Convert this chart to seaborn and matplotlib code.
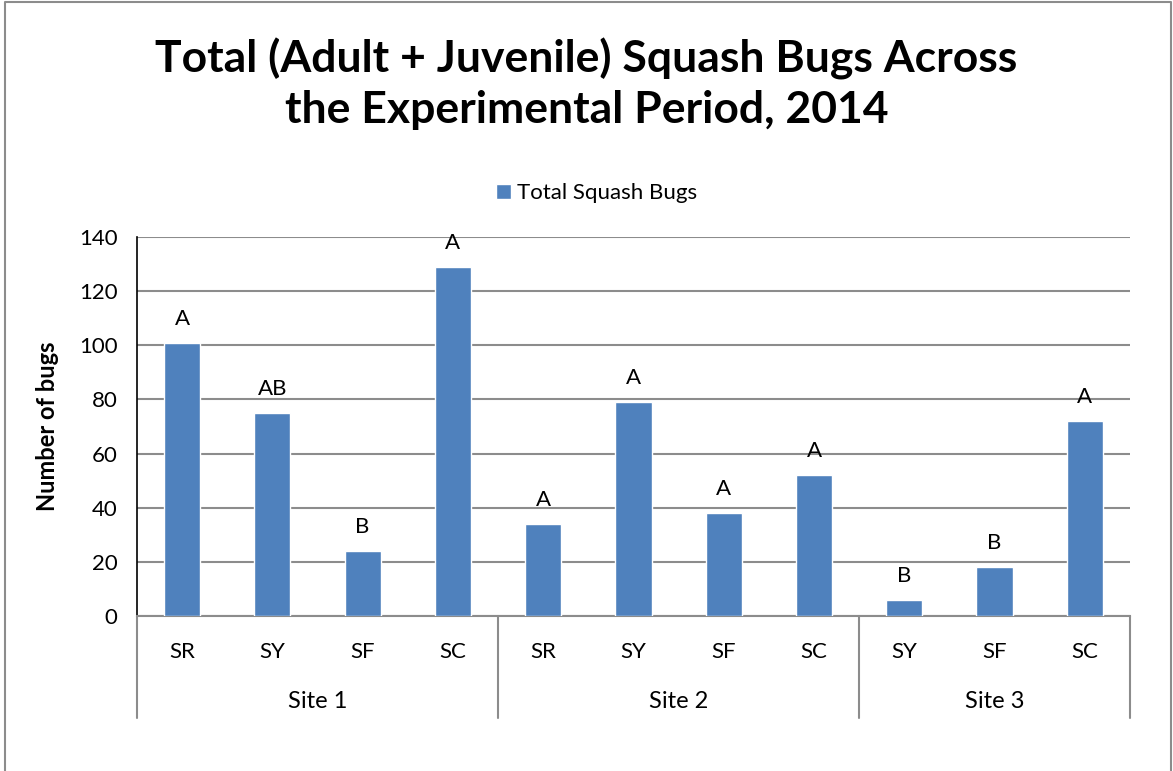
import numpy as np
import pandas as pd
import matplotlib.pyplot as plt
import seaborn as sns
from matplotlib.lines import Line2D

sites = ['Site 1', 'Site 1', 'Site 1', 'Site 1',
         'Site 2', 'Site 2', 'Site 2', 'Site 2',
         'Site 3', 'Site 3', 'Site 3']
treatments = ['SR', 'SY', 'SF', 'SC', 'SR', 'SY', 'SF', 'SC', 'SY', 'SF', 'SC']
bugs = [101, 75, 24, 129, 34, 79, 38, 52, 6, 18, 72]
letters = ['A', 'AB', 'B', 'A', 'A', 'A', 'A', 'A', 'B', 'B', 'A']
y_ticks = [0, 20, 40, 60, 80, 100, 120, 140]

df = pd.DataFrame({'site': sites, 'treatment': treatments, 'bugs': bugs})
df['key'] = df['site'] + ' ' + df['treatment']

sns.set_style('white')
plt.rcParams['font.family'] = ['Lato', 'DejaVu Sans']
plt.rcParams.update({'text.color': 'black', 'axes.labelcolor': 'black',
                     'xtick.color': 'black', 'ytick.color': 'black'})

bar_color = '#4f81bd'
grid_color = '#8c8c8c'
fig = plt.figure(figsize=(11.73, 7.71), dpi=100)
ax = fig.add_axes([0.1168, 0.201, 0.8465, 0.4916])

sns.barplot(data=df, x='key', y='bugs', order=list(df['key']), color=bar_color,
            saturation=1, width=0.4, ax=ax, label='Total Squash Bugs', zorder=3)

ax.set_ylim(0, 140)
ax.set_xlim(-0.5, len(df) - 0.5)
ax.set_yticks(y_ticks)
ax.tick_params(axis='y', labelsize=16, length=5, width=1, direction='out', pad=9)
ax.yaxis.grid(True, color=grid_color, linewidth=1.5, zorder=0)
ax.set_axisbelow(True)
for s in ['top', 'right']:
    ax.spines[s].set_visible(False)
ax.spines['left'].set_color('black')
ax.spines['left'].set_linewidth(1.2)
ax.spines['bottom'].set_color(grid_color)
ax.spines['bottom'].set_linewidth(1.5)

ax.set_xticks(range(len(df)))
ax.set_xticklabels(df['treatment'], fontsize=16)
ax.tick_params(axis='x', length=0, pad=19)
ax.set_xlabel('')
ax.set_ylabel('Number of bugs', fontsize=17, fontweight='bold')
ax.yaxis.set_label_coords(-0.079, 0.5)

# letters above bars
for i, (v, lab) in enumerate(zip(bugs, letters)):
    ax.annotate(lab, (i, v), xytext=(0, 13), textcoords='offset points',
                ha='center', va='baseline', fontsize=16)

# group labels and separators below the axis
trans = ax.get_xaxis_transform()
bounds = [-0.5]
for site in dict.fromkeys(sites):
    idx = [i for i, s in enumerate(sites) if s == site]
    ax.text(np.mean(idx), -0.225, site, transform=trans, ha='center', va='center', fontsize=17)
    bounds.append(idx[-1] + 0.5)
for b in bounds:
    ax.plot([b, b], [0, -0.27], transform=trans, color=grid_color, linewidth=1.5, clip_on=False)

ax.legend(loc='center', bbox_to_anchor=(0.463, 1.116), frameon=False,
          fontsize=16, handlelength=0.65, handleheight=0.65, handletextpad=0.3)

fig.text(0.5, 0.891, 'Total (Adult + Juvenile) Squash Bugs Across\nthe Experimental Period, 2014',
         fontsize=32, fontweight='bold', ha='center', va='center', linespacing=1.3)

# outer chart border (left, top, right)
fig.add_artist(Line2D([0.004, 0.004, 0.998, 0.998], [0.0, 0.997, 0.997, 0.0],
                      transform=fig.transFigure, color=grid_color, linewidth=1.5))

fig.savefig('out.png', dpi=100)
